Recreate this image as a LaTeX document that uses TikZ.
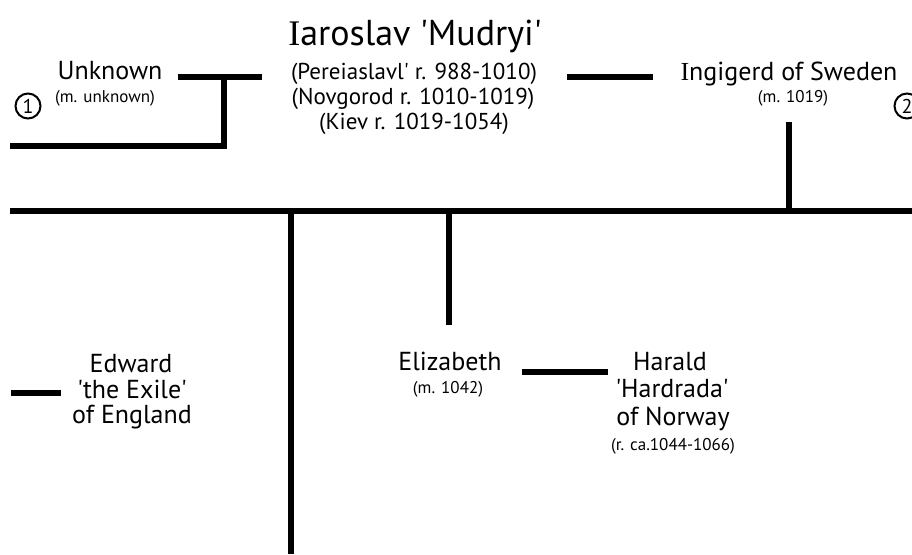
\documentclass[tikz,border=0pt]{standalone}
\usepackage{fontspec}
\newfontfamily\ptsans{PT Sans}
\newfontfamily\serifI{Liberation Serif}
\begin{document}
\begin{tikzpicture}[x=1pt,y=-1pt,
  tline/.style={line width=6.5pt},
  txt/.style={inner sep=0pt,anchor=base},
  titlef/.style={txt,font=\ptsans\fontsize{36}{40}\selectfont},
  namef/.style={txt,font=\ptsans\fontsize{26}{30}\selectfont},
  infof/.style={txt,font=\ptsans\fontsize{23}{26}\selectfont},
  smallf/.style={txt,font=\ptsans\fontsize{17}{20}\selectfont},
  circnum/.style={circle,draw,line width=2pt,minimum size=25pt,inner sep=0pt,font=\ptsans\fontsize{20}{22}\selectfont}
]
\useasboundingbox (0,0) rectangle (912,554);
\clip (0,0) rectangle (912,554);
% texts
\node[titlef] (iar) at (415,45) {{\serifI I}aroslav 'Mudryi'};
\node[infof] (per) at (414,79) {(Pereiaslavl' r. 988-1010)};
\node[infof] (nov) at (413,104) {(Novgorod r. 1010-1019)};
\node[infof] (kie) at (414,129) {(Kiev r. 1019-1054)};
\node[namef] (unk) at (110,79) {Unknown};
\node[smallf] (unkm) at (105,102) {(m. unknown)};
\node[namef] (ing) at (789,80) {{\serifI I}ngigerd of Sweden};
\node[smallf] (ingm) at (793,102) {(m. 1019)};
\node[namef] (edw1) at (131,372) {Edward};
\node[namef] (edw2) at (132,398) {'the Exile'};
\node[namef] (edw3) at (132,423) {of England};
\node[namef] (eli) at (450,370) {Elizabeth};
\node[smallf] (elim) at (448,393) {(m. 1042)};
\node[namef] (har1) at (670,370) {Harald};
\node[namef] (har2) at (672,397) {'Hardrada'};
\node[namef] (har3) at (673,425) {of Norway};
\node[smallf] (har4) at (673,450) {(r. ca.1044-1066)};
\node[circnum] (c1) at (28,106) {1};
\node[circnum] (c2) at (907,106) {2};
% line coordinates
\coordinate (a1) at (178,77);
\coordinate (a2) at (262,77);
\coordinate (a3) at (224,77);
\coordinate (a4) at (224,146);
\coordinate (a5) at (10,146);
\coordinate (b1) at (567,77);
\coordinate (b2) at (653,77);
\coordinate (m1) at (10,211);
\coordinate (m2) at (912,211);
\coordinate (v1t) at (789,122);
\coordinate (v1b) at (789,211);
\coordinate (v2t) at (291,211);
\coordinate (v2b) at (291,554);
\coordinate (v3t) at (449,211);
\coordinate (v3b) at (449,325);
\coordinate (e1) at (11,393);
\coordinate (e2) at (61,393);
\coordinate (h1) at (522,372);
\coordinate (h2) at (608,372);
% lines
\draw[tline] (a1) -- (a2);
\draw[tline] (a3) -- (a4) -- (a5);
\draw[tline] (b1) -- (b2);
\draw[tline] (m1) -- (m2);
\draw[tline] (v1t) -- (v1b);
\draw[tline] (v2t) -- (v2b);
\draw[tline] (v3t) -- (v3b);
\draw[tline] (e1) -- (e2);
\draw[tline] (h1) -- (h2);
\end{tikzpicture}
\end{document}
